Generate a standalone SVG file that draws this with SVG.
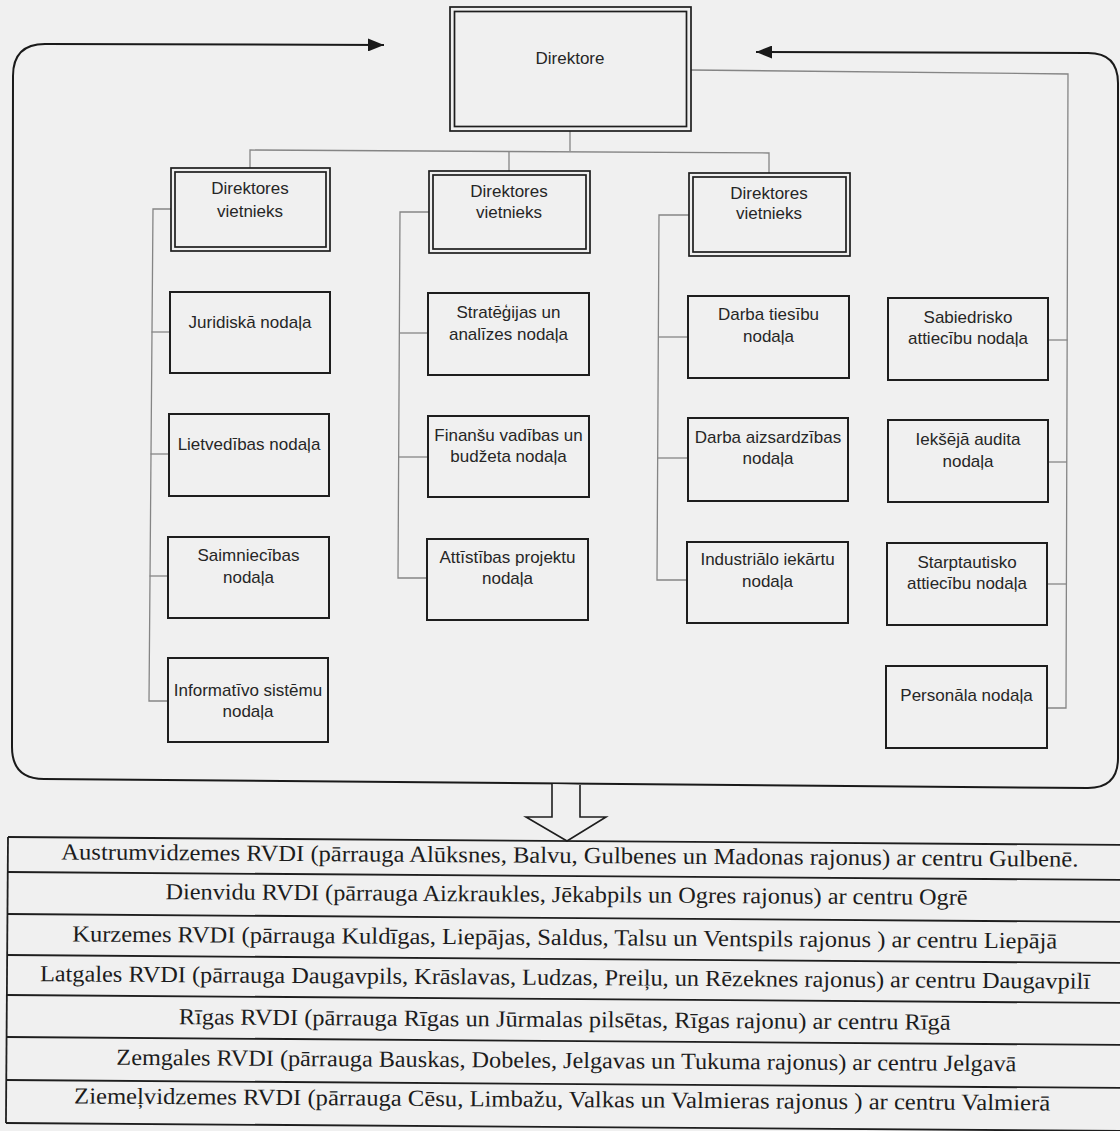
<svg xmlns="http://www.w3.org/2000/svg" width="1120" height="1131" viewBox="0 0 1120 1131">
<style>
  .bg { fill: #f0f0f0; }
  .box { fill: none; stroke: #1e1e1e; stroke-width: 2; }
  .dbl { fill: none; stroke: #1e1e1e; stroke-width: 1.7; }
  .t { font-family: "Liberation Sans", Arial, sans-serif; font-size: 17px; fill: #262626; text-anchor: middle; }
  .conn { fill: none; stroke: #858585; stroke-width: 1.3; }
  .frame { fill: none; stroke: #1a1a1a; stroke-width: 2; }
  .tline { stroke: #1e1e1e; stroke-width: 1.8; fill: none; }
  .tt { font-family: "Liberation Serif", "Times New Roman", serif; font-size: 23px; fill: #1c1c1c; text-anchor: middle; }
</style>
<defs>
  <marker id="ah" viewBox="0 0 10 10" refX="10" refY="5" markerUnits="userSpaceOnUse" markerWidth="16" markerHeight="13" preserveAspectRatio="none" orient="auto-start-reverse">
    <path d="M0,0 L10,5 L0,10 z" fill="#1a1a1a"/>
  </marker>
</defs>
<rect class="bg" x="0" y="0" width="1120" height="1131"/>

<g id="connectors">
  <path class="frame" d="M756,52 L1088,53 Q1118,53 1118,83 L1118,758 Q1118,788 1088,788 L44,779 Q12,779 12,747 L13,76 Q13,44 45,44 L384,45" marker-start="url(#ah)" marker-end="url(#ah)"/>
  <path class="conn" d="M570,131 V151"/>
  <path class="conn" d="M250,168 V150 L769,153 V173"/>
  <path class="conn" d="M509,151 V171"/>
  <path class="conn" d="M691,70 L1068,74 L1066,708 H1047"/>
  <path class="conn" d="M1048,340 H1067.5"/>
  <path class="conn" d="M1048,462 H1067"/>
  <path class="conn" d="M1047,584 H1066.5"/>
  <path class="conn" d="M171,209 H153 L149,701 H168"/>
  <path class="conn" d="M151.5,332 H170"/>
  <path class="conn" d="M150.5,454 H169"/>
  <path class="conn" d="M149.5,576 H168"/>
  <path class="conn" d="M429,212 H400 L398,578 H427"/>
  <path class="conn" d="M399.5,333 H428"/>
  <path class="conn" d="M399,457 H428"/>
  <path class="conn" d="M689,215 H659 L657,580 H687"/>
  <path class="conn" d="M658.5,337 H688"/>
  <path class="conn" d="M658,458 H688"/>
  <path d="M552,784 V817 H526 L567,841 L606,817 H580 V785" fill="#f0f0f0" stroke="#1e1e1e" stroke-width="1.6"/>
</g>

<g id="director">
  <rect class="dbl" x="450" y="7" width="241" height="124" stroke-width="2.2"/>
  <rect class="dbl" x="454.5" y="11.5" width="232" height="115"/>
  <text class="t" x="570" y="64">Direktore</text>
</g>

<g id="deputy1">
  <rect class="dbl" x="171" y="168" width="159" height="83" stroke-width="2"/>
  <rect class="dbl" x="175" y="172" width="151" height="75"/>
  <text class="t" x="250" y="194">Direktores</text>
  <text class="t" x="250" y="217">vietnieks</text>
</g>
<g id="deputy2">
  <rect class="dbl" x="429" y="171" width="161" height="82" stroke-width="2"/>
  <rect class="dbl" x="433" y="175" width="153" height="74"/>
  <text class="t" x="509" y="197">Direktores</text>
  <text class="t" x="509" y="218">vietnieks</text>
</g>
<g id="deputy3">
  <rect class="dbl" x="689" y="173" width="161" height="83" stroke-width="2"/>
  <rect class="dbl" x="693" y="177" width="153" height="75"/>
  <text class="t" x="769" y="199">Direktores</text>
  <text class="t" x="769" y="219">vietnieks</text>
</g>

<g id="juridiska">
  <rect class="box" x="170" y="292" width="160" height="81"/>
  <text class="t" x="250" y="328">Juridiskā nodaļa</text>
</g>
<g id="lietvedibas">
  <rect class="box" x="169" y="414" width="160" height="82"/>
  <text class="t" x="249" y="450">Lietvedības nodaļa</text>
</g>
<g id="saimniecibas">
  <rect class="box" x="168" y="537" width="161" height="81"/>
  <text class="t" x="248.5" y="561">Saimniecības</text>
  <text class="t" x="248.5" y="583">nodaļa</text>
</g>
<g id="informativo">
  <rect class="box" x="168" y="658" width="160" height="84"/>
  <text class="t" x="248" y="696">Informatīvo sistēmu</text>
  <text class="t" x="248" y="717">nodaļa</text>
</g>

<g id="strategijas">
  <rect class="box" x="428" y="293" width="161" height="82"/>
  <text class="t" x="508.5" y="318">Stratēģijas un</text>
  <text class="t" x="508.5" y="340">analīzes nodaļa</text>
</g>
<g id="finansu">
  <rect class="box" x="428" y="416" width="161" height="81"/>
  <text class="t" x="508.5" y="441">Finanšu vadības un</text>
  <text class="t" x="508.5" y="462">budžeta nodaļa</text>
</g>
<g id="attistibas">
  <rect class="box" x="427" y="539" width="161" height="81"/>
  <text class="t" x="507.5" y="563">Attīstības projektu</text>
  <text class="t" x="507.5" y="584">nodaļa</text>
</g>

<g id="darba-tiesibu">
  <rect class="box" x="688" y="296" width="161" height="82"/>
  <text class="t" x="768.5" y="320">Darba tiesību</text>
  <text class="t" x="768.5" y="342">nodaļa</text>
</g>
<g id="darba-aizsardzibas">
  <rect class="box" x="688" y="418" width="160" height="83"/>
  <text class="t" x="768" y="443">Darba aizsardzības</text>
  <text class="t" x="768" y="464">nodaļa</text>
</g>
<g id="industrialo">
  <rect class="box" x="687" y="542" width="161" height="81"/>
  <text class="t" x="767.5" y="565">Industriālo iekārtu</text>
  <text class="t" x="767.5" y="587">nodaļa</text>
</g>

<g id="sabiedrisko">
  <rect class="box" x="888" y="298" width="160" height="82"/>
  <text class="t" x="968" y="323">Sabiedrisko</text>
  <text class="t" x="968" y="344">attiecību nodaļa</text>
</g>
<g id="ieksejo-audita">
  <rect class="box" x="888" y="420" width="160" height="82"/>
  <text class="t" x="968" y="445">Iekšējā audita</text>
  <text class="t" x="968" y="467">nodaļa</text>
</g>
<g id="starptautisko">
  <rect class="box" x="887" y="543" width="160" height="82"/>
  <text class="t" x="967" y="568">Starptautisko</text>
  <text class="t" x="967" y="589">attiecību nodaļa</text>
</g>
<g id="personala">
  <rect class="box" x="886" y="666" width="161" height="82"/>
  <text class="t" x="966.5" y="701">Personāla nodaļa</text>
</g>

<g id="rvdi-table" transform="rotate(0.41 8 837)">
  <path class="tline" d="M8,837 V1123"/>
  <path class="tline" d="M8,837 H1135 M8,872 H1135 M8,914 H1135 M8,955 H1135 M8,995 H1135 M8,1037 H1135 M8,1080 H1135 M8,1123 H1135"/>
  <text class="tt" x="570" y="859" textLength="1017" lengthAdjust="spacingAndGlyphs">Austrumvidzemes RVDI (pārrauga Alūksnes, Balvu, Gulbenes un Madonas rajonus) ar centru Gulbenē.</text>
  <text class="tt" x="567" y="898" textLength="802" lengthAdjust="spacingAndGlyphs">Dienvidu RVDI (pārrauga Aizkraukles, Jēkabpils un Ogres rajonus) ar centru Ogrē</text>
  <text class="tt" x="565.5" y="941" textLength="985" lengthAdjust="spacingAndGlyphs">Kurzemes RVDI (pārrauga Kuldīgas, Liepājas, Saldus, Talsu un Ventspils rajonus ) ar centru Liepājā</text>
  <text class="tt" x="566" y="981" textLength="1050" lengthAdjust="spacingAndGlyphs">Latgales RVDI (pārrauga Daugavpils, Krāslavas, Ludzas, Preiļu, un Rēzeknes rajonus) ar centru Daugavpilī</text>
  <text class="tt" x="566" y="1023" textLength="772" lengthAdjust="spacingAndGlyphs">Rīgas RVDI (pārrauga Rīgas un Jūrmalas pilsētas, Rīgas rajonu) ar centru Rīgā</text>
  <text class="tt" x="568" y="1064" textLength="900" lengthAdjust="spacingAndGlyphs">Zemgales RVDI (pārrauga Bauskas, Dobeles, Jelgavas un Tukuma rajonus) ar centru Jelgavā</text>
  <text class="tt" x="564" y="1103" textLength="976" lengthAdjust="spacingAndGlyphs">Ziemeļvidzemes RVDI (pārrauga Cēsu, Limbažu, Valkas un Valmieras rajonus ) ar centru Valmierā</text>
</g>
</svg>
